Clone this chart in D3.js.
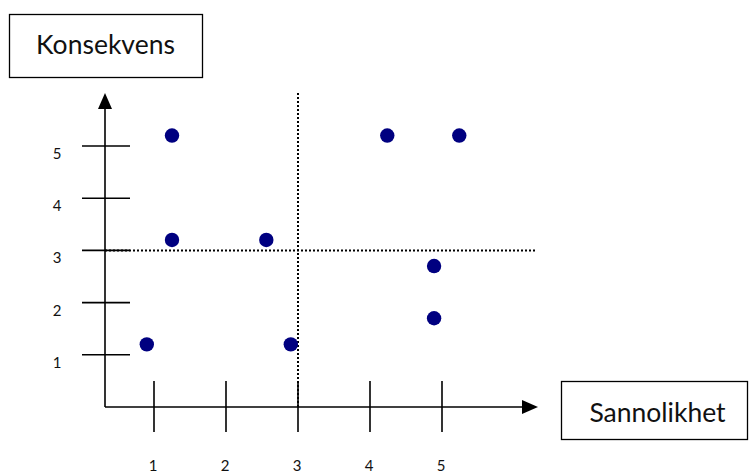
<!DOCTYPE html>
<html><head><meta charset="utf-8">
<script src="https://cdn.jsdelivr.net/npm/d3@7"></script>
<style>html,body{margin:0;padding:0;background:#fff;}svg{display:block;font-family:Lato,"Open Sans",sans-serif;}</style>
</head><body>
<script>
const xTicks = [1, 2, 3, 4, 5];
const yTicks = [1, 2, 3, 4, 5];
const xLabel = "Sannolikhet";
const yLabel = "Konsekvens";
const sannolikhet = [0.9, 1.25, 1.25, 2.56, 2.9, 4.24, 5.24, 4.89, 4.89];
const konsekvens  = [1.2, 5.2, 3.2, 3.2, 1.2, 5.2, 5.2, 2.7, 1.7];
const thresholdX = 3, thresholdY = 3;

const W = 749, H = 473;
const svg = d3.select("body").append("svg").attr("width", W).attr("height", H);
const x = d3.scaleLinear().domain([1, 5]).range([154, 442]);
const y = d3.scaleLinear().domain([0, 5]).range([407, 146]);
const axX = 105, axY = y(0), xEnd = 538, yEnd = 93;

// axes
svg.append("line").attr("x1", axX).attr("x2", axX).attr("y1", axY).attr("y2", yEnd + 14)
  .attr("stroke", "#000").attr("stroke-width", 1.6);
svg.append("line").attr("x1", axX).attr("x2", xEnd - 14).attr("y1", axY).attr("y2", axY)
  .attr("stroke", "#000").attr("stroke-width", 1.6);
svg.append("path").attr("d", `M${axX},${yEnd}L${axX - 7},${yEnd + 16}L${axX + 7},${yEnd + 16}Z`).attr("fill", "#000");
svg.append("path").attr("d", `M${xEnd},${axY}L${xEnd - 16},${axY - 7}L${xEnd - 16},${axY + 7}Z`).attr("fill", "#000");

// dotted threshold lines
svg.append("line").attr("x1", x(thresholdX)).attr("x2", x(thresholdX)).attr("y1", yEnd).attr("y2", axY)
  .attr("stroke", "#000").attr("stroke-width", 2).attr("stroke-dasharray", "2,2");
svg.append("line").attr("x1", axX).attr("x2", 536).attr("y1", y(thresholdY)).attr("y2", y(thresholdY))
  .attr("stroke", "#000").attr("stroke-width", 2).attr("stroke-dasharray", "2,2");

// y ticks
const yt = svg.append("g");
yt.selectAll("line").data(yTicks).join("line")
  .attr("x1", 82).attr("x2", 130).attr("y1", d => y(d)).attr("y2", d => y(d))
  .attr("stroke", "#000").attr("stroke-width", 1.6);
yt.selectAll("text").data(yTicks).join("text")
  .attr("x", 57).attr("y", d => y(d) + 13).attr("text-anchor", "middle")
  .attr("font-size", 15).attr("fill", "#111").text(d => d);

// x ticks
const xt = svg.append("g");
xt.selectAll("line").data(xTicks).join("line")
  .attr("x1", d => x(d)).attr("x2", d => x(d)).attr("y1", 381).attr("y2", 432)
  .attr("stroke", "#000").attr("stroke-width", 1.6);
xt.selectAll("text").data(xTicks).join("text")
  .attr("x", d => x(d) - 1).attr("y", 471).attr("text-anchor", "middle")
  .attr("font-size", 15).attr("fill", "#111").text(d => d);

// points
svg.append("g").selectAll("circle").data(sannolikhet.map((s, i) => [s, konsekvens[i]])).join("circle")
  .attr("cx", d => x(d[0])).attr("cy", d => y(d[1])).attr("r", 7.2).attr("fill", "#000080");

// label boxes
function box(x0, y0, w, h, label, tx, ty) {
  svg.append("rect").attr("x", x0).attr("y", y0).attr("width", w).attr("height", h)
    .attr("fill", "#fff").attr("stroke", "#000").attr("stroke-width", 1.3);
  svg.append("text").attr("x", tx).attr("y", ty).attr("text-anchor", "middle")
    .attr("font-size", 26.5).attr("fill", "#111").text(label);
}
box(9.5, 14.5, 193, 63, yLabel, 105.5, 54);
box(561.5, 381.5, 186, 58, xLabel, 657.5, 422);
</script>
</body></html>
